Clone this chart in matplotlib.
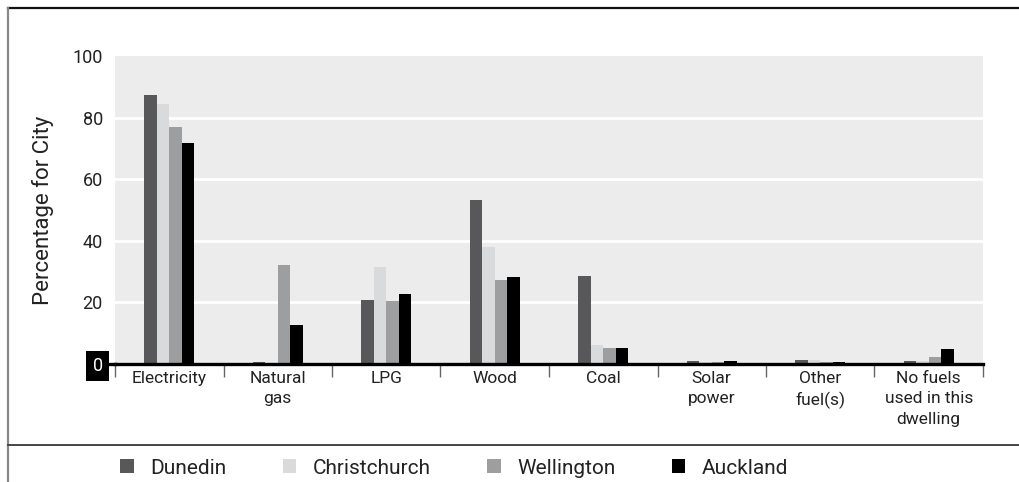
import matplotlib.pyplot as plt
import numpy as np
from matplotlib.lines import Line2D
from matplotlib.patches import Patch

plt.rcParams['font.family'] = ['Roboto', 'DejaVu Sans']

categories = ['Electricity', 'Natural\ngas', 'LPG', 'Wood', 'Coal', 'Solar\npower',
              'Other\nfuel(s)', 'No fuels\nused in this\ndwelling']
cities = ['Dunedin', 'Christchurch', 'Wellington', 'Auckland']
dunedin = [87.5, 0.5, 20.7, 53.1, 28.5, 0.9, 1.4, 0.9]
christchurch = [84.5, 0.2, 31.4, 37.9, 6.2, 0.6, 1.2, 1.1]
wellington = [77.0, 32.1, 20.4, 27.2, 5.2, 0.8, 0.5, 2.2]
auckland = [71.6, 12.6, 22.7, 28.2, 5.2, 0.9, 0.6, 4.8]
series = [dunedin, christchurch, wellington, auckland]
colours = ['#58585a', '#d9dadb', '#9d9e9f', '#000000']

W, H = 1019, 482
fig = plt.figure(figsize=(W / 100, H / 100), dpi=100)
ax = fig.add_axes([115 / W, 1 - 364 / H, (983 - 115) / W, (364 - 56) / H])
ax.set_facecolor('#ececec')

x = np.arange(len(categories))
bw = 0.115
for i, (vals, col) in enumerate(zip(series, colours)):
    ax.bar(x + (i - 1.5) * bw, vals, bw, color=col, zorder=3)

ax.set_xlim(-0.5, len(categories) - 0.5)
ax.set_ylim(0, 100)
ax.set_yticks([0, 20, 40, 60, 80, 100])
for y in [20, 40, 60, 80]:
    ax.axhline(y, color='white', lw=2, zorder=1)

for s in ['top', 'right', 'left']:
    ax.spines[s].set_visible(False)
ax.spines['bottom'].set_linewidth(2.4)
ax.spines['bottom'].set_zorder(4)
# short stub of the baseline running into the zero box
ax.add_line(Line2D([-0.006, 0], [0, 0], transform=ax.transAxes, color='black',
                   lw=2.4, clip_on=False))

ax.set_xticks(x)
ax.set_xticklabels(categories, fontsize=12.5, color='#222222', linespacing=1.45)
ax.set_xticks(np.arange(len(categories) + 1) - 0.5, minor=True)
ax.tick_params(axis='x', which='major', length=0, pad=5)
ax.tick_params(axis='x', which='minor', length=9, width=1, color='#666666')
ax.tick_params(axis='y', length=0, pad=8.8, labelsize=13, labelcolor='#222222')

zero = ax.get_yticklabels()[0]
zero.set_color('white')
zero.set_bbox(dict(facecolor='black', edgecolor='none', boxstyle='square,pad=0.35'))

ax.set_ylabel('Percentage for City', fontsize=16, color='#222222', labelpad=13)

# frame lines around the figure
fig.add_artist(Line2D([8 / W, 1], [1 - 8 / H] * 2, color='#111111', lw=1.6))
fig.add_artist(Line2D([8 / W, 8 / W], [0, 1 - 8 / H], color='#888888', lw=1.6))
fig.add_artist(Line2D([8 / W, 1], [1 - 445 / H] * 2, color='#444444', lw=1.4))

handles = [Patch(facecolor=c, edgecolor='none') for c in colours]
fig.legend(handles, cities, loc='center left', bbox_to_anchor=(120 / W, 1 - 468 / H),
           ncol=4, frameon=False, fontsize=15, handlelength=0.65, handleheight=0.65,
           handletextpad=0.8, columnspacing=2.7, borderpad=0, borderaxespad=0,
           labelcolor='#222222')

fig.savefig('out.png', dpi=100)
